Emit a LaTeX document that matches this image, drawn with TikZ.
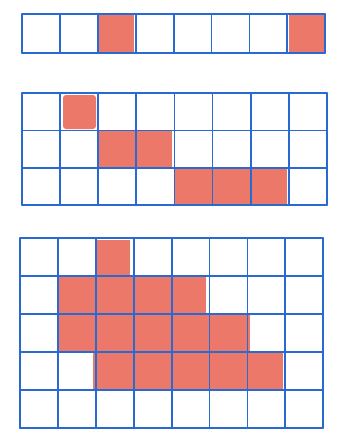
\documentclass[tikz,border=0pt]{standalone}
\begin{document}
\begin{tikzpicture}[x=1pt,y=-1pt,
  gridline/.style={draw=gblue,line width=1.8pt,line cap=round},
  redcell/.style={fill=cred,draw=none}]
\definecolor{gblue}{RGB}{40,105,210}
\definecolor{cred}{RGB}{236,120,105}
\useasboundingbox (0,0) rectangle (345,439);
% ---- top grid: 1 row x 8 cols
\fill[cred] (98,15) rectangle (134,52);
\fill[cred] (289,15) rectangle (324,52);
\foreach \i in {0,...,8} {\draw[gridline] (22+\i*37.9,14) -- (22+\i*37.9,53);}
\draw[gridline] (22,14) -- (325,14);
\draw[gridline] (22,53) -- (325,53);
% ---- middle grid: 3 rows x 8 cols
\fill[cred,rounded corners=3pt] (63,95) rectangle (96,129);
\fill[cred] (98,131) rectangle (172,168);
\fill[cred] (174,168) rectangle (287,206);
\foreach \i in {0,...,8} {\draw[gridline] (22+\i*38.1,93) -- (22+\i*38.1,205);}
\foreach \j in {0,...,3} {\draw[gridline] (22,93+\j*37.4) -- (327,93+\j*37.4);}
% ---- bottom grid: 5 rows x 8 cols
\fill[cred] (95,240) rectangle (130,277);
\fill[cred] (58,277) rectangle (206,314);
\fill[cred] (58,314) rectangle (250,352);
\fill[cred] (93,352) rectangle (283,390);
\foreach \i in {0,...,8} {\draw[gridline] (20+\i*37.9,238) -- (20+\i*37.9,428);}
\foreach \j in {0,...,5} {\draw[gridline] (20,238+\j*38) -- (323,238+\j*38);}
\end{tikzpicture}
\end{document}
